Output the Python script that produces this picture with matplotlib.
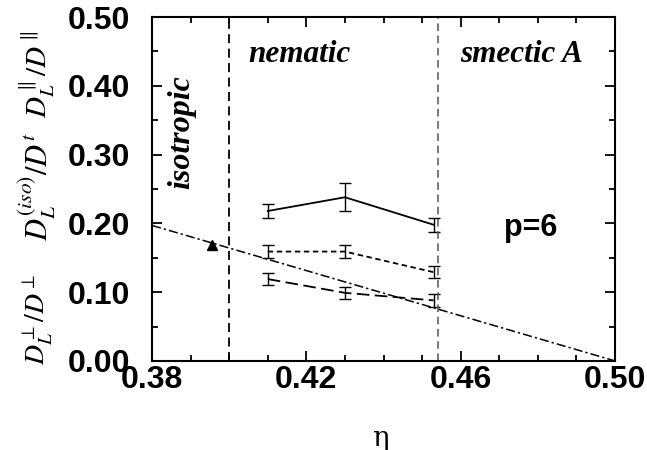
import matplotlib
matplotlib.use('Agg')
import matplotlib.pyplot as plt
from matplotlib.ticker import MultipleLocator

# data
eta = [0.41, 0.43, 0.453]
d_par = [0.218, 0.238, 0.198]
d_par_err = [0.01, 0.02, 0.01]
d_iso = [0.159, 0.159, 0.129]
d_iso_err = [0.009, 0.009, 0.009]
d_perp = [0.119, 0.099, 0.088]
d_perp_err = [0.009, 0.009, 0.009]

iso_eta = [0.3956]
iso_val = [0.168]
fit_eta = [0.38, 0.50]
fit_val = [0.197, 0.0]

trans_iso_nem = 0.40
trans_nem_sm = 0.454

plt.rcParams['mathtext.fontset'] = 'stix'

fig = plt.figure(figsize=(6.47, 4.5), dpi=100)
ax = fig.add_axes([0.235, 0.198, 0.7155, 0.764])

ax.errorbar(eta, d_par, yerr=d_par_err, color='black', lw=1.3, capsize=4, elinewidth=1)
ax.errorbar(eta, d_iso, yerr=d_iso_err, color='black', lw=1.3, capsize=4, elinewidth=1,
            linestyle=(0, (3, 2)))
ax.errorbar(eta, d_perp, yerr=d_perp_err, color='black', lw=1.3, capsize=4, elinewidth=1,
            linestyle=(0, (7, 3)))
ax.plot(fit_eta, fit_val, color='black', lw=1.1, linestyle=(0, (6, 2, 1.5, 2)))
ax.plot(iso_eta, iso_val, '^', color='black', ms=7)

ax.axvline(trans_iso_nem, color='black', lw=1.3, linestyle=(0, (5, 3)))
ax.axvline(trans_nem_sm, color='#555555', lw=1.1, linestyle=(0, (5, 3)))

ax.set_xlim(0.38, 0.50)
ax.set_ylim(0.0, 0.50)
ax.set_xticks([0.38, 0.42, 0.46, 0.50])
ax.set_yticks([0.0, 0.1, 0.2, 0.3, 0.4, 0.5])
ax.xaxis.set_minor_locator(MultipleLocator(0.01))
ax.yaxis.set_minor_locator(MultipleLocator(0.05))
ax.set_xticklabels(['0.38', '0.42', '0.46', '0.50'])
ax.set_yticklabels(['0.00', '0.10', '0.20', '0.30', '0.40', '0.50'])
ax.tick_params(which='both', direction='in', top=True, right=True, width=1.3)
ax.tick_params(which='major', length=7, labelsize=23)
ax.tick_params(axis='y', which='major', pad=16)
ax.tick_params(axis='x', which='major', pad=3)
ax.tick_params(which='minor', length=4)
for lab in ax.get_xticklabels() + ax.get_yticklabels():
    lab.set_fontweight('bold')
    lab.set_family('Liberation Sans')
for sp in ax.spines.values():
    sp.set_linewidth(1.5)

fig.text(380 / 647, 1 - 438 / 450, 'η', fontsize=20, family='DejaVu Serif',
         ha='center', va='center')
fig.text(0.058, 1 - 74 / 450, r'$D_L^{\parallel}/D^{\parallel}$',
         rotation=90, fontsize=21, ha='center', va='center')
fig.text(0.058, 1 - 187 / 450, r'$D_L^{(iso)}/D^t$',
         rotation=90, fontsize=22, ha='center', va='center')
fig.text(0.058, 1 - 319 / 450, r'$D_L^{\perp}/D^{\perp}$',
         rotation=90, fontsize=20, ha='center', va='center')

tfont = dict(family='Liberation Serif', style='italic', weight='bold')
ax.text(0.3878, 0.333, 'isotropic', rotation=90, ha='center', va='center',
        fontsize=23, **tfont)
ax.text(0.4183, 0.445, 'nematic', ha='center', va='center', fontsize=22.5, **tfont)
ax.text(0.4759, 0.445, 'smectic A', ha='center', va='center', fontsize=22.5, **tfont)
ax.text(0.4782, 0.193, 'p=6', ha='center', va='center', fontsize=22, fontweight='bold',
        family='Liberation Sans')

fig.savefig('out.png', dpi=100)
